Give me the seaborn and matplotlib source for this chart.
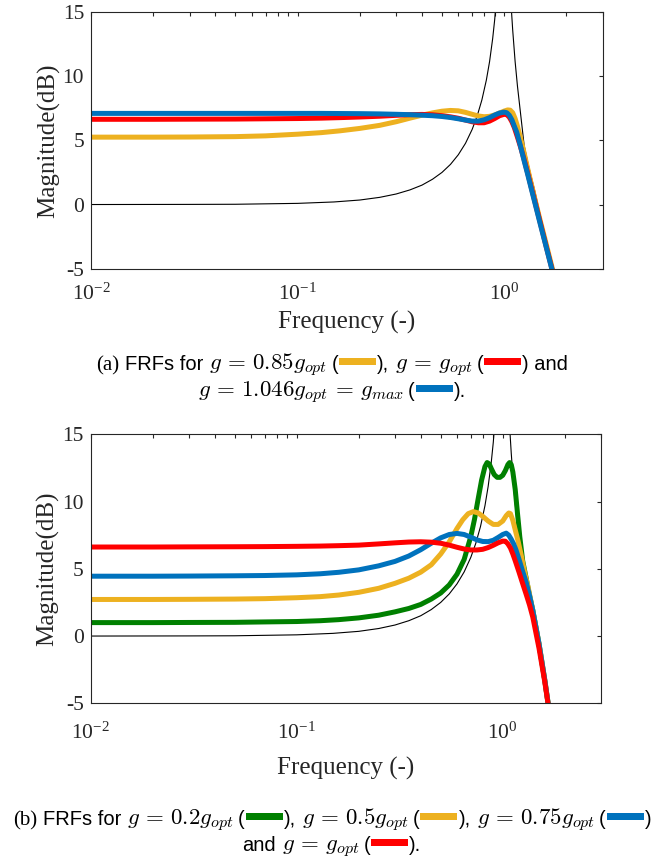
import numpy as np
import pandas as pd
import seaborn as sns
import matplotlib
matplotlib.use("Agg")
import matplotlib.pyplot as plt
from matplotlib.patches import Rectangle
from matplotlib.ticker import LogLocator, NullFormatter, FixedLocator

# ---------------------------------------------------------------- data
# undamped reference structure (thin black curve), shared by both panels
ref_w = [0.01, 0.03, 0.05, 0.1, 0.15, 0.2, 0.25, 0.3, 0.35, 0.4, 0.45, 0.5,
         0.55, 0.6, 0.65, 0.7, 0.74, 0.78, 0.82, 0.85, 0.88, 0.9, 0.92, 0.95,
         1.05, 1.08, 1.1, 1.13, 1.16, 1.2, 1.25, 1.3, 1.35, 1.4, 1.5, 1.6,
         1.7, 1.8]
ref_db = [0.0, 0.01, 0.02, 0.09, 0.2, 0.35, 0.56, 0.82, 1.14, 1.51, 1.97, 2.5,
          3.13, 3.88, 4.77, 5.85, 6.89, 8.14, 9.69, 11.13, 12.93, 14.4, 16.3,
          20.2, 19.8, 15.6, 13.6, 11.15, 9.23, 7.13, 4.6, 3.3, 2.2, 1.2, -0.9,
          -3.1, -5.2, -7.2]

# panel (a): g = 0.85 g_opt, g = g_opt, g = 1.046 g_opt
a_085_w = [0.01, 0.02, 0.03, 0.05, 0.07, 0.1, 0.13, 0.16, 0.2, 0.25, 0.3,
           0.35, 0.4, 0.45, 0.5, 0.55, 0.6, 0.65, 0.7, 0.75, 0.8, 0.85, 0.9,
           0.95, 1.0, 1.04, 1.07, 1.1, 1.13, 1.16, 1.2, 1.25, 1.3, 1.4, 1.5,
           1.6, 1.7, 1.8]
a_085_db = [5.25, 5.25, 5.26, 5.29, 5.35, 5.48, 5.6, 5.74, 5.93, 6.17, 6.45,
            6.73, 6.96, 7.14, 7.27, 7.33, 7.3, 7.18, 7.03, 6.9, 6.84, 6.87,
            6.98, 7.13, 7.28, 7.37, 7.35, 7.15, 6.7, 6.1, 5.2, 4.0, 2.8, 0.6,
            -1.35, -3.1, -4.8, -6.4]

a_100_w = [0.01, 0.02, 0.03, 0.05, 0.07, 0.1, 0.13, 0.16, 0.2, 0.25, 0.3,
           0.35, 0.4, 0.45, 0.5, 0.55, 0.6, 0.65, 0.7, 0.75, 0.8, 0.85, 0.9,
           0.95, 1.0, 1.03, 1.06, 1.09, 1.12, 1.16, 1.2, 1.25, 1.3, 1.35, 1.4,
           1.5, 1.6, 1.7, 1.8]
a_100_db = [6.64, 6.64, 6.65, 6.66, 6.68, 6.7, 6.73, 6.77, 6.82, 6.88, 6.95,
            7.0, 7.02, 6.99, 6.92, 6.83, 6.72, 6.58, 6.45, 6.37, 6.37, 6.5,
            6.7, 6.92, 7.03, 7.0, 6.8, 6.45, 6.0, 5.25, 4.5, 3.5, 2.45, 1.4,
            0.4, -1.5, -3.3, -4.95, -6.5]

a_1046_w = [0.01, 0.02, 0.03, 0.05, 0.07, 0.1, 0.13, 0.16, 0.2, 0.25, 0.3,
            0.35, 0.4, 0.45, 0.5, 0.55, 0.6, 0.65, 0.7, 0.75, 0.8, 0.85, 0.9,
            0.95, 1.0, 1.03, 1.06, 1.09, 1.12, 1.15, 1.2, 1.25, 1.3, 1.35, 1.4,
            1.5, 1.6, 1.7, 1.8]
a_1046_db = [7.1, 7.1, 7.1, 7.1, 7.1, 7.1, 7.1, 7.09, 7.08, 7.06, 7.03, 7.0,
             6.96, 6.92, 6.86, 6.78, 6.68, 6.58, 6.5, 6.5, 6.6, 6.77, 6.97,
             7.13, 7.2, 7.15, 6.95, 6.6, 6.1, 5.65, 4.55, 3.4, 2.35, 1.3, 0.3,
             -1.6, -3.35, -5.0, -6.6]

# panel (b): g = 0.2, 0.5, 0.75 and 1.0 g_opt
b_020_w = [0.01, 0.02, 0.03, 0.05, 0.07, 0.1, 0.13, 0.16, 0.2, 0.25, 0.3,
           0.35, 0.4, 0.45, 0.5, 0.55, 0.6, 0.65, 0.7, 0.73, 0.76, 0.79, 0.82,
           0.84, 0.86, 0.88, 0.91, 0.94, 0.97, 1.0, 1.03, 1.06, 1.08, 1.1,
           1.12, 1.15, 1.18, 1.21, 1.25, 1.3, 1.35, 1.4, 1.5, 1.6, 1.7, 1.8]
b_020_db = [1.0, 1.0, 1.01, 1.02, 1.05, 1.08, 1.14, 1.22, 1.35, 1.55, 1.8,
            2.05, 2.35, 2.75, 3.2, 3.8, 4.6, 5.7, 7.4, 8.7, 10.2, 11.6, 12.6,
            12.9, 12.8, 12.45, 12.0, 11.8, 11.8, 11.95, 12.3, 12.75, 12.9,
            12.75, 12.2, 10.9, 9.1, 7.4, 5.6, 4.3, 3.0, 1.9, -0.6, -3.3, -6.1,
            -8.5]

b_050_w = [0.01, 0.02, 0.03, 0.05, 0.07, 0.1, 0.13, 0.16, 0.2, 0.25, 0.3,
           0.35, 0.4, 0.45, 0.5, 0.55, 0.6, 0.64, 0.68, 0.72, 0.76, 0.8, 0.85,
           0.9, 0.95, 1.0, 1.04, 1.07, 1.09, 1.12, 1.15, 1.19, 1.23, 1.28,
           1.33, 1.4, 1.5, 1.6, 1.7, 1.8]
b_050_db = [2.72, 2.72, 2.73, 2.75, 2.78, 2.85, 2.93, 3.05, 3.25, 3.55, 3.92,
            4.3, 4.75, 5.3, 6.1, 7.0, 8.0, 8.65, 9.1, 9.25, 9.15, 8.9, 8.55,
            8.3, 8.3, 8.55, 8.95, 9.15, 9.1, 8.6, 7.9, 7.0, 6.0, 4.7, 3.6, 1.9,
            -0.55, -3.25, -6.05, -8.5]

b_075_w = [0.01, 0.02, 0.03, 0.05, 0.07, 0.1, 0.13, 0.16, 0.2, 0.25, 0.3,
           0.35, 0.4, 0.45, 0.5, 0.55, 0.6, 0.65, 0.7, 0.75, 0.8, 0.85, 0.9,
           0.95, 1.0, 1.04, 1.07, 1.1, 1.13, 1.16, 1.2, 1.25, 1.3, 1.35, 1.4,
           1.5, 1.6, 1.7, 1.8]
b_075_db = [4.45, 4.45, 4.46, 4.48, 4.5, 4.55, 4.63, 4.74, 4.92, 5.22, 5.55,
            5.95, 6.42, 6.9, 7.3, 7.55, 7.63, 7.55, 7.35, 7.15, 7.03, 7.02,
            7.12, 7.33, 7.55, 7.65, 7.5, 7.2, 6.85, 6.4, 5.7, 4.8, 4.0, 3.0,
            1.9, -0.55, -3.25, -6.05, -8.5]

b_100_w = [0.01, 0.02, 0.03, 0.05, 0.07, 0.1, 0.13, 0.16, 0.2, 0.25, 0.3,
           0.35, 0.4, 0.45, 0.5, 0.55, 0.6, 0.65, 0.7, 0.75, 0.8, 0.85, 0.9,
           0.95, 1.0, 1.03, 1.06, 1.09, 1.12, 1.15, 1.2, 1.25, 1.3, 1.35, 1.4,
           1.5, 1.6, 1.7, 1.8]
b_100_db = [6.62, 6.62, 6.63, 6.64, 6.65, 6.67, 6.69, 6.72, 6.76, 6.85, 6.93,
            6.99, 7.01, 6.98, 6.9, 6.76, 6.6, 6.47, 6.4, 6.4, 6.45, 6.58,
            6.75, 6.93, 7.06, 7.05, 6.85, 6.55, 6.1, 5.6, 4.75, 3.9, 3.1, 2.3,
            1.4, -0.9, -3.4, -6.1, -8.5]

x_ticks = [0.01, 0.1, 1.0]
x_tick_labels = [r"$\mathdefault{10^{-2}}$", r"$\mathdefault{10^{-1}}$",
                 r"$\mathdefault{10^{0}}$"]
y_ticks = [-5, 0, 5, 10, 15]
y_tick_labels = ["-5", "0", "5", "10", "15"]

YELLOW = "#EDB120"
RED = "#FF0000"
BLUE = "#0072BD"
GREEN = "#008000"
INK = "#262626"

# ---------------------------------------------------------------- style
sns.set_theme(style="white")
plt.rcParams.update({
    "font.family": ["Liberation Serif", "DejaVu Serif"],
    "mathtext.fontset": "custom",
    "mathtext.rm": "Liberation Serif",
    "mathtext.it": "Liberation Serif:italic",
    "axes.edgecolor": INK,
    "axes.linewidth": 0.8,
})

W, H = 656, 863
fig = plt.figure(figsize=(W / 100, H / 100), dpi=100)


def frame(ax, xpad, xlabelpad):
    ax.set_xscale("log")
    ax.set_xlim(0.01, 3.0)
    ax.set_ylim(-5, 15)
    ax.xaxis.set_major_locator(FixedLocator(x_ticks))
    ax.set_xticklabels(x_tick_labels)
    ax.xaxis.set_minor_locator(LogLocator(base=10, subs=np.arange(2, 10)))
    ax.xaxis.set_minor_formatter(NullFormatter())
    ax.set_yticks(y_ticks)
    ax.set_yticklabels(y_tick_labels)
    ax.tick_params(which="both", direction="in", top=True, right=True,
                   width=0.8, length=3.2, labelsize=15.5, colors=INK)
    ax.tick_params(axis="x", which="major", pad=xpad)
    ax.tick_params(axis="y", which="major", pad=5)
    ax.set_xlabel("Frequency (-)", fontsize=18, labelpad=xlabelpad, color=INK)
    ax.set_ylabel("Magnitude(dB)", fontsize=18, labelpad=2, color=INK)


def series_frame(pairs):
    rows = [pd.DataFrame({"freq": w, "mag": db, "case": name})
            for name, w, db in pairs]
    return pd.concat(rows, ignore_index=True)


ref = pd.DataFrame({"freq": ref_w, "mag": ref_db})

# -------- panel (a)
ax1 = fig.add_axes([91 / W, 1 - 268.7 / H, 511.7 / W, 256.7 / H])
sns.lineplot(data=ref, x="freq", y="mag", color="black", linewidth=0.8,
             estimator=None, sort=False, ax=ax1, zorder=1)
dfa = series_frame([("0.85", a_085_w, a_085_db),
                    ("1.00", a_100_w, a_100_db),
                    ("1.046", a_1046_w, a_1046_db)])
sns.lineplot(data=dfa, x="freq", y="mag", hue="case",
             hue_order=["0.85", "1.00", "1.046"],
             palette=[YELLOW, RED, BLUE], linewidth=3.6, estimator=None,
             sort=False, legend=False, ax=ax1, zorder=2)
frame(ax1, xpad=11, xlabelpad=4)

# -------- panel (b)
ax2 = fig.add_axes([90.7 / W, 1 - 703.3 / H, 510.3 / W, 269 / H])
sns.lineplot(data=ref, x="freq", y="mag", color="black", linewidth=0.8,
             estimator=None, sort=False, ax=ax2, zorder=1)
dfb = series_frame([("0.2", b_020_w, b_020_db),
                    ("0.5", b_050_w, b_050_db),
                    ("0.75", b_075_w, b_075_db),
                    ("1.0", b_100_w, b_100_db)])
sns.lineplot(data=dfb, x="freq", y="mag", hue="case",
             hue_order=["0.2", "0.5", "0.75", "1.0"],
             palette=[GREEN, YELLOW, BLUE, RED], linewidth=3.6,
             estimator=None, sort=False, legend=False, ax=ax2, zorder=2)
frame(ax2, xpad=14, xlabelpad=9)

# ---------------------------------------------------------------- captions
SANS = dict(family=["Liberation Sans", "DejaVu Sans"], fontsize=14.5)
SERIF = dict(family=["Liberation Serif", "DejaVu Serif"], fontsize=15)
MATH = dict(math_fontfamily="cm", fontsize=16.5)
SW_W, SW_H, SW_LIFT = 37, 7, 5
GAP = 6

fig.canvas.draw()
renderer = fig.canvas.get_renderer()


def caption_line(pieces, y_base, x_center):
    placed = []
    total = 0.0
    for kind, val, *rest in pieces:
        if kind == "gap":
            placed.append(("gap", val, val))
            total += val
        elif kind == "sw":
            placed.append(("sw", val, SW_W))
            total += SW_W
        else:
            t = fig.text(0, 0, val, va="baseline", ha="left", color="black",
                         **rest[0])
            w = t.get_window_extent(renderer).width
            placed.append(("txt", t, w))
            total += w
    x = x_center - total / 2
    for kind, obj, w in placed:
        if kind == "txt":
            obj.set_position((x / W, 1 - y_base / H))
        elif kind == "sw":
            fig.patches.append(Rectangle(
                (x / W, 1 - (y_base - SW_LIFT) / H), SW_W / W, SW_H / H,
                transform=fig.transFigure, color=obj, lw=0))
        x += w


def swatch_group(color):
    return [("gap", 4), ("txt", "(", SANS), ("gap", 1), ("sw", color),
            ("gap", 1)]


caption_line([("txt", "(a)", SERIF), ("gap", GAP), ("txt", "FRFs for", SANS),
              ("gap", GAP), ("txt", r"$g\,=\,0.85g_{opt}$", MATH)]
             + swatch_group(YELLOW)
             + [("txt", "),", SANS), ("gap", GAP),
                ("txt", r"$g\,=\,g_{opt}$", MATH)]
             + swatch_group(RED)
             + [("txt", ") and", SANS)], 370, 332)
caption_line([("txt", r"$g\,=\,1.046g_{opt}\,=\,g_{max}$", MATH)]
             + swatch_group(BLUE) + [("txt", ").", SANS)], 397, 332)

caption_line([("txt", "(b)", SERIF), ("gap", GAP), ("txt", "FRFs for", SANS),
              ("gap", GAP), ("txt", r"$g\,=\,0.2g_{opt}$", MATH)]
             + swatch_group(GREEN)
             + [("txt", "),", SANS), ("gap", GAP),
                ("txt", r"$g\,=\,0.5g_{opt}$", MATH)]
             + swatch_group(YELLOW)
             + [("txt", "),", SANS), ("gap", GAP),
                ("txt", r"$g\,=\,0.75g_{opt}$", MATH)]
             + swatch_group(BLUE) + [("txt", ")", SANS)], 825, 332)
caption_line([("txt", "and", SANS), ("gap", GAP),
              ("txt", r"$g\,=\,g_{opt}$", MATH)]
             + swatch_group(RED) + [("txt", ").", SANS)], 851, 332)

fig.savefig("out.png", dpi=100, facecolor="white")
